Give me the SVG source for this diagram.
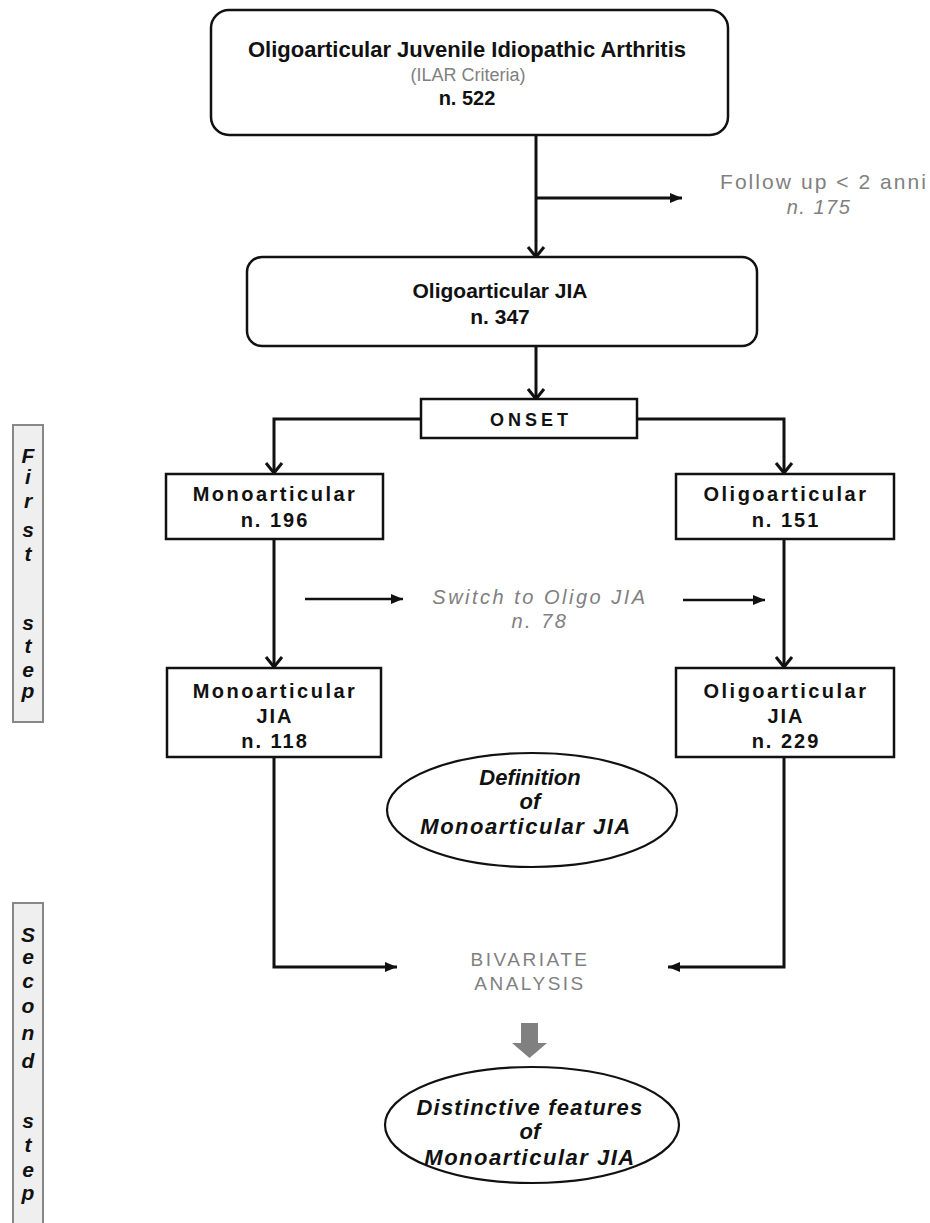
<svg xmlns="http://www.w3.org/2000/svg" width="930" height="1223" viewBox="0 0 930 1223">
<defs>
<style>
.box{fill:#fff;stroke:#111;stroke-width:2.5}
.ell{fill:#fff;stroke:#111;stroke-width:2.2}
.bar{fill:#efefef;stroke:#888;stroke-width:2}
.con{fill:none;stroke:#111;stroke-width:3}
.thin{fill:none;stroke:#111;stroke-width:2.5}
.t{font-family:"Liberation Sans",Arial,sans-serif;text-anchor:middle;fill:#111}
.b{font-weight:bold}
.g{fill:#808080}
.i{font-style:italic}
.step{font-family:"Liberation Sans",Arial,sans-serif;font-style:italic;font-weight:bold;font-size:21px;text-anchor:middle;fill:#111}
</style>
<marker id="vee" viewBox="-12 -10 14 20" refX="0" refY="0" markerWidth="14" markerHeight="20" markerUnits="userSpaceOnUse" orient="auto">
<path d="M-10,-8 L0,0 L-10,8" fill="none" stroke="#111" stroke-width="3"/>
</marker>
<marker id="tri" viewBox="-12 -6 12 12" refX="0" refY="0" markerWidth="12" markerHeight="12" markerUnits="userSpaceOnUse" orient="auto">
<path d="M-12,-5 L0,0 L-12,5 Z" fill="#111"/>
</marker>
</defs>

<g id="step1">
<rect class="bar" x="13" y="425" width="30" height="297"/>
<text class="step" x="28" y="463">F</text>
<text class="step" x="28" y="484">i</text>
<text class="step" x="28" y="508">r</text>
<text class="step" x="28" y="537">s</text>
<text class="step" x="28" y="561">t</text>
<text class="step" x="28" y="630">s</text>
<text class="step" x="28" y="653">t</text>
<text class="step" x="28" y="677">e</text>
<text class="step" x="28" y="698">p</text>
</g>

<g id="step2">
<rect class="bar" x="13" y="903" width="30" height="330"/>
<text class="step" x="28" y="942">S</text>
<text class="step" x="28" y="964">e</text>
<text class="step" x="28" y="988">c</text>
<text class="step" x="28" y="1013">o</text>
<text class="step" x="28" y="1040">n</text>
<text class="step" x="28" y="1068">d</text>
<text class="step" x="28" y="1128">s</text>
<text class="step" x="28" y="1152">t</text>
<text class="step" x="28" y="1177">e</text>
<text class="step" x="28" y="1200">p</text>
</g>

<g id="connectors">
<line class="con" x1="536" y1="135" x2="536" y2="257" marker-end="url(#vee)"/>
<line class="con" x1="536" y1="198" x2="682" y2="198" marker-end="url(#tri)"/>
<line class="con" x1="536" y1="346" x2="536" y2="399" marker-end="url(#vee)"/>
<polyline class="con" points="421,419 274,419 274,473" marker-end="url(#vee)"/>
<polyline class="con" points="637,419 784,419 784,473" marker-end="url(#vee)"/>
<line class="con" x1="274" y1="539" x2="274" y2="667" marker-end="url(#vee)"/>
<line class="con" x1="784" y1="539" x2="784" y2="667" marker-end="url(#vee)"/>
<line class="thin" x1="305" y1="599" x2="403" y2="599" marker-end="url(#tri)"/>
<line class="thin" x1="683" y1="600" x2="765" y2="600" marker-end="url(#tri)"/>
<polyline class="con" points="274,757 274,967 397,967" marker-end="url(#tri)"/>
<polyline class="con" points="784,757 784,967 668,967" marker-end="url(#tri)"/>
<path d="M521,1023 H538 V1043 H547 L529.5,1058 L512,1043 H521 Z" fill="#808080"/>
</g>

<g id="n-root">
<rect class="box" x="211" y="10" width="517" height="125" rx="18"/>
<text class="t b" x="467" y="57" font-size="22">Oligoarticular Juvenile Idiopathic Arthritis</text>
<text class="t g" x="468" y="81" font-size="18">(ILAR Criteria)</text>
<text class="t b" x="467" y="105" font-size="20">n. 522</text>
</g>

<g id="n-followup">
<text class="t g" x="720" y="189" font-size="21" style="text-anchor:start" textLength="206" lengthAdjust="spacing">Follow up &lt; 2 anni</text>
<text class="t g i" x="819" y="214" font-size="20" letter-spacing="1.5">n. 175</text>
</g>

<g id="n-oligojia">
<rect class="box" x="247" y="257" width="510" height="89" rx="15"/>
<text class="t b" x="500" y="298" font-size="21">Oligoarticular JIA</text>
<text class="t b" x="500" y="324" font-size="21">n. 347</text>
</g>

<g id="n-onset">
<rect class="box" x="421" y="399" width="216" height="39"/>
<text class="t b" x="531" y="426" font-size="18" letter-spacing="4">ONSET</text>
</g>

<g id="n-mono">
<rect class="box" x="166" y="474" width="217" height="65"/>
<text class="t b" x="275" y="501" font-size="20" letter-spacing="2.5">Monoarticular</text>
<text class="t b" x="275" y="527" font-size="20" letter-spacing="2">n. 196</text>
</g>

<g id="n-oligo">
<rect class="box" x="676" y="474" width="218" height="65"/>
<text class="t b" x="786" y="501" font-size="20" letter-spacing="2.5">Oligoarticular</text>
<text class="t b" x="786" y="527" font-size="20" letter-spacing="2">n. 151</text>
</g>

<g id="n-switch">
<text class="t g i" x="540" y="604" font-size="20" letter-spacing="2.5">Switch to Oligo JIA</text>
<text class="t g i" x="540" y="628" font-size="20" letter-spacing="2.5">n. 78</text>
</g>

<g id="n-monojia">
<rect class="box" x="167" y="668" width="214" height="89"/>
<text class="t b" x="275" y="698" font-size="20" letter-spacing="2.5">Monoarticular</text>
<text class="t b" x="275" y="723" font-size="20" letter-spacing="2">JIA</text>
<text class="t b" x="275" y="748" font-size="20" letter-spacing="2">n. 118</text>
</g>

<g id="n-oligojia2">
<rect class="box" x="676" y="668" width="218" height="89"/>
<text class="t b" x="786" y="698" font-size="20" letter-spacing="2.5">Oligoarticular</text>
<text class="t b" x="786" y="723" font-size="20" letter-spacing="2">JIA</text>
<text class="t b" x="786" y="748" font-size="20" letter-spacing="2">n. 229</text>
</g>

<g id="n-definition">
<ellipse class="ell" cx="532" cy="810" rx="145" ry="57"/>
<text class="t b i" x="530" y="785" font-size="22">Definition</text>
<text class="t b i" x="530" y="809" font-size="22">of</text>
<text class="t b i" x="526" y="834" font-size="22" letter-spacing="1.5">Monoarticular JIA</text>
</g>

<g id="n-bivariate">
<text class="t g" x="530" y="966" font-size="19" letter-spacing="2.5">BIVARIATE</text>
<text class="t g" x="530" y="990" font-size="19" letter-spacing="2.5">ANALYSIS</text>
</g>

<g id="n-distinctive">
<ellipse class="ell" cx="532" cy="1125" rx="147" ry="58"/>
<text class="t b i" x="530" y="1115" font-size="22" letter-spacing="1.2">Distinctive features</text>
<text class="t b i" x="530" y="1139" font-size="22">of</text>
<text class="t b i" x="530" y="1165" font-size="22" letter-spacing="1.5">Monoarticular JIA</text>
</g>
</svg>
